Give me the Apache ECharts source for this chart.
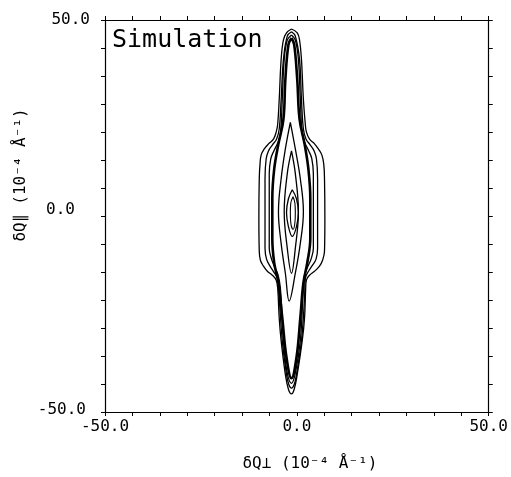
<!DOCTYPE html>
<html lang="en">
  <head>
    <meta charset="UTF-8" />
    <title>Simulation contours</title>
    <script src="https://cdn.jsdelivr.net/npm/echarts@6/dist/echarts.min.js"></script>
    <style>
      html, body { margin: 0; padding: 0; background: #fff; }
      #main { width: 511px; height: 477px; }
    </style>
  </head>
  <body>
    <div id="main"></div>
    <script>
      // ticks: 14 intervals across -50..50, labels only at ends and centre
      const tickValues = [-50, -42.857, -35.714, -28.571, -21.429, -14.286, -7.143, 0, 7.143, 14.286, 21.429, 28.571, 35.714, 42.857, 50]
      const labelValues = [-50, 0, 50]

      // contour rows: [dQpar, left dQperp, right dQperp], top to bottom
      const contour1 = [
        [47.7, -1.4, -1.4], [46.7, -2.7, 0.1], [44.9, -3.5, 0.7], [39.9, -4.1, 1.2],
        [29.7, -4.6, 1.7], [23.4, -5.0, 2.2], [21.4, -5.4, 2.5], [19.6, -6.1, 3.3],
        [18.4, -7.4, 4.6], [17.1, -8.5, 5.6], [15.6, -9.3, 6.5], [13.3, -9.6, 7.0],
        [9.5, -9.8, 7.2], [-0.6, -9.9, 7.3], [-9.0, -9.8, 7.2], [-11.3, -9.5, 6.7],
        [-12.8, -8.7, 5.9], [-14.1, -7.7, 4.6], [-15.1, -6.4, 3.3], [-16.3, -5.4, 2.5],
        [-18.4, -5.0, 2.3], [-26.0, -4.6, 2.0], [-31.8, -4.1, 1.4], [-40.4, -3.0, 0.1],
        [-44.2, -2.2, -0.7], [-45.4, -1.4, -1.4]
      ]
      const contour2 = [
        [47.0, -1.4, -1.4], [45.9, -2.5, -0.4], [39.9, -3.5, 0.7], [29.7, -4.1, 1.2],
        [22.2, -4.6, 1.7], [19.6, -5.3, 2.4], [18.1, -6.4, 3.5], [16.6, -7.4, 4.5],
        [14.6, -8.0, 5.1], [9.5, -8.3, 5.4], [-8.2, -8.3, 5.4], [-11.0, -7.9, 5.0],
        [-12.8, -7.0, 3.9], [-14.3, -6.0, 2.9], [-16.0, -5.0, 2.2], [-20.9, -4.6, 2.0],
        [-31.8, -3.8, 1.2], [-40.4, -2.7, -0.1], [-43.0, -2.1, -0.7], [-43.9, -1.4, -1.4]
      ]
      const contour3 = [
        [46.2, -1.4, -1.4], [44.9, -2.5, -0.4], [39.9, -3.3, 0.4], [29.7, -3.8, 0.9],
        [20.9, -4.3, 1.4], [18.6, -5.0, 2.1], [16.6, -6.0, 3.1], [14.6, -6.8, 3.9],
        [10.8, -7.2, 4.3], [-8.2, -7.2, 4.3], [-11.0, -6.6, 3.7], [-13.0, -5.8, 2.8],
        [-15.0, -4.9, 2.0], [-18.4, -4.3, 1.7], [-31.8, -3.5, 0.9], [-40.1, -2.5, -0.4],
        [-42.7, -1.4, -1.4]
      ]
      const contour4 = [
        [45.4, -1.4, -1.4], [43.7, -2.2, -0.7], [34.8, -3.0, 0.1], [24.7, -3.5, 0.7],
        [18.4, -4.8, 2.0], [12.0, -5.9, 3.0], [4.4, -6.4, 3.5], [-5.7, -6.4, 3.5],
        [-12.0, -5.9, 2.7], [-17.1, -4.8, 1.7], [-26.0, -3.8, 0.9], [-36.1, -2.7, -0.1],
        [-41.4, -1.4, -1.4]
      ]
      const contour5 = [
        [23.9, -1.7, -1.7], [17.1, -3.0, -0.4], [9.5, -4.1, 0.9], [1.1, -4.8, 1.7],
        [-7.0, -4.1, 0.9], [-14.6, -3.0, -0.4], [-21.7, -2.0, -2.0]
      ]
      const contour6 = [
        [16.6, -1.4, -1.4], [10.8, -2.5, -0.4], [1.1, -3.3, 0.4], [-8.2, -2.5, -0.4],
        [-14.6, -1.4, -1.4]
      ]
      const contour7 = [
        [6.7, -1.2, -1.2], [4.4, -2.2, -0.1], [0.9, -2.7, 0.4], [-2.7, -2.2, -0.1],
        [-5.2, -1.2, -1.2]
      ]
      const contour8 = [
        [4.9, -1.0, -1.0], [3.2, -1.6, -0.5], [0.9, -1.7, -0.4], [-1.6, -1.6, -0.5],
        [-3.4, -1.0, -1.0]
      ]

      const contours = [
        { rows: contour1, width: 1.3 },
        { rows: contour2, width: 1.3 },
        { rows: contour3, width: 1.3 },
        { rows: contour4, width: 2.6 },
        { rows: contour5, width: 1.3 },
        { rows: contour6, width: 1.3 },
        { rows: contour7, width: 1.3 },
        { rows: contour8, width: 1.1 }
      ]

      // closed loop: down the right side, back up the left side
      function ring(rows) {
        const right = rows.map((r) => [r[2], r[0]])
        const left = rows.slice(1, -1).reverse().map((r) => [r[1], r[0]])
        return right.concat(left, [right[0]])
      }

      const font = "DejaVu Sans Mono"
      const fmt = (v) => Number(v).toFixed(1)
      // y labels sit roughly left-aligned in the reference, so pad the short ones
      const yFmt = (v) => {
        const s = Number(v).toFixed(1)
        if (v === 0) return "{z|" + s + "}"
        if (v < 0) return "{n|" + s + "}"
        return "{p|" + s + "}"
      }
      const yRich = {
        p: { fontFamily: font, fontSize: 16, color: "#000", padding: [0, 8, 0, 0] },
        z: { fontFamily: font, fontSize: 16, color: "#000", padding: [0, 23, 12, 0] },
        n: { fontFamily: font, fontSize: 16, color: "#000", padding: [0, 12, 4, 0] }
      }

      function axisBase(pos, labelled) {
        return {
          type: "value",
          position: pos,
          min: -50,
          max: 50,
          axisLine: { show: true, onZero: false, lineStyle: { color: "#000", width: 1.2 } },
          axisTick: { show: true, customValues: tickValues, length: 4, lineStyle: { color: "#000" } },
          axisLabel: labelled
            ? { show: true, customValues: labelValues, formatter: fmt, fontFamily: font, fontSize: 16, color: "#000", margin: 7 }
            : { show: false },
          splitLine: { show: false }
        }
      }

      const yMain = axisBase("left", true)
      yMain.axisLabel = { show: true, customValues: labelValues, formatter: yFmt, rich: yRich, margin: 7 }

      const chart = echarts.init(document.getElementById("main"))
      chart.setOption({
        animation: false,
        backgroundColor: "#fff",
        title: {
          text: "Simulation",
          left: 107,
          top: 23,
          textStyle: { fontFamily: font, fontSize: 25, fontWeight: "normal", color: "#000" }
        },
        grid: { left: 105, right: 21, top: 20, bottom: 62 },
        xAxis: [
          Object.assign(axisBase("bottom", true), {
            name: "δQ⊥ (10⁻⁴ Å⁻¹)",
            nameLocation: "middle",
            nameGap: 44,
            nameTextStyle: { fontFamily: font, fontSize: 16, color: "#000", padding: [0, 0, 0, 26] }
          }),
          axisBase("top", false)
        ],
        yAxis: [
          Object.assign(yMain, {
            name: "δQ∥ (10⁻⁴ Å⁻¹)",
            nameLocation: "middle",
            nameGap: 76,
            nameMoveOverlap: false,
            nameTextStyle: { fontFamily: font, fontSize: 16, color: "#000", padding: [0, 0, 0, 82] }
          }),
          axisBase("right", false)
        ],
        series: contours.map((c) => ({
          type: "line",
          data: ring(c.rows),
          showSymbol: false,
          smooth: 0.4,
          lineStyle: { color: "#000", width: c.width },
          silent: true
        }))
      })
    </script>
  </body>
</html>
